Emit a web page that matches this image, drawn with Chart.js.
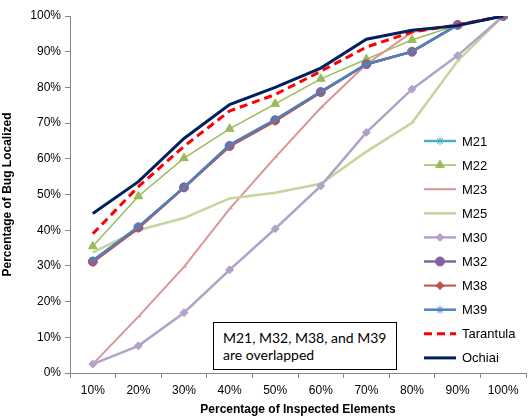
<!DOCTYPE html>
<html lang="en">
<head>
    <meta charset="UTF-8">
    <title>Bug Localization</title>
    <script src="https://cdn.jsdelivr.net/npm/chart.js"></script>
    <style>
        body {
            margin: 0;
            padding: 0;
            background: #fff;
        }
        .wrap {
            position: relative;
            width: 532px;
            height: 418px;
        }
        .note {
            position: absolute;
            left: 213px;
            top: 322px;
            width: 184px;
            height: 48px;
            border: 1px solid #000;
            background: #fff;
            font-family: Lato, "Open Sans", sans-serif;
            font-size: 14px;
            line-height: 17px;
            padding: 6px 0 0 9px;
            box-sizing: border-box;
            color: #000;
        }
    </style>
</head>
<body>
    <div class="wrap">
        <canvas id="bugChart" width="532" height="418"></canvas>
        <div class="note">M21, M32, M38, and M39<br>are overlapped</div>
    </div>

    <script>
        const categories = ['10%', '20%', '30%', '40%', '50%', '60%', '70%', '80%', '90%', '100%'];
        const m21 = [31.5, 40.8, 52, 63.8, 70.9, 78.7, 86.5, 90, 97.5, 100];
        const m22 = [35.5, 49.5, 60.2, 68.4, 75.4, 82.4, 87.9, 93.3, 97.5, 100];
        const m23 = [2.5, 15.8, 29.7, 46, 60.4, 74.3, 86.5, 95.5, 97.5, 100];
        const m25 = [33.8, 40, 43.4, 48.9, 50.5, 53, 62, 70.1, 87.4, 100];
        const m30 = [2.5, 7.6, 16.9, 28.9, 40.4, 52.4, 67.4, 79.5, 88.9, 100];
        const m32 = [31.2, 40.8, 52, 63.6, 70.8, 78.7, 86.5, 90, 97.5, 100];
        const m38 = [31, 40.5, 51.8, 63.4, 70.5, 78.5, 86.5, 90, 97.5, 100];
        const m39 = [31.5, 41, 52, 63.9, 71, 78.8, 86.5, 90, 97.5, 100];
        const tarantula = [39, 52.2, 63.5, 73.4, 78, 84.5, 91.3, 95.5, 97.5, 100];
        const ochiai = [44.7, 53.6, 65.7, 75.2, 80, 85.4, 93.5, 96, 97.3, 100];

        const series = [
            { label: 'M21', data: m21, color: '#4bacc6', width: 2.5, style: 'star', r: 4 },
            { label: 'M22', data: m22, color: '#9bbb59', width: 1.5, style: 'triangle', r: 5 },
            { label: 'M23', data: m23, color: '#d99694', width: 2, style: 'dash', r: 3 },
            { label: 'M25', data: m25, color: '#c3d69b', width: 2.5, style: 'dash', r: 3 },
            { label: 'M30', data: m30, color: '#b3a2c7', width: 2.5, style: 'rectRot', r: 4 },
            { label: 'M32', data: m32, color: '#8064a2', width: 2.5, style: 'circle', r: 4.5 },
            { label: 'M38', data: m38, color: '#c0504d', width: 2, style: 'rectRot', r: 4 },
            { label: 'M39', data: m39, color: '#4f81bd', width: 2.5, style: 'star', r: 4 },
            { label: 'Tarantula', data: tarantula, color: '#ff0000', width: 3, style: false, r: 0, dash: [8, 5] },
            { label: 'Ochiai', data: ochiai, color: '#002060', width: 3, style: false, r: 0 }
        ];

        // legend drawn inside the plot on the right, like the original
        const insideLegend = {
            id: 'insideLegend',
            afterDraw(chart) {
                const ctx = chart.ctx;
                ctx.save();
                series.forEach((s, i) => {
                    const y = 141 + i * 24.1;
                    ctx.strokeStyle = s.color;
                    ctx.fillStyle = s.color;
                    ctx.lineWidth = s.width;
                    ctx.setLineDash(s.dash || []);
                    ctx.beginPath();
                    ctx.moveTo(424, y);
                    ctx.lineTo(456, y);
                    ctx.stroke();
                    ctx.setLineDash([]);
                    if (s.style && s.style !== 'dash') {
                        ctx.lineWidth = 1;
                        Chart.helpers.drawPoint(ctx, { pointStyle: s.style, radius: s.r, rotation: 0, borderWidth: 1 }, 440, y);
                    }
                    ctx.fillStyle = '#000';
                    ctx.font = '13px Arial, "Liberation Sans", sans-serif';
                    ctx.textBaseline = 'middle';
                    ctx.fillText(s.label, 462, y + 1);
                });
                ctx.restore();
            }
        };

        const ctx = document.getElementById('bugChart').getContext('2d');
        new Chart(ctx, {
            type: 'line',
            data: {
                labels: categories,
                datasets: series.map((s, i) => ({
                    label: s.label,
                    data: s.data,
                    borderColor: s.color,
                    backgroundColor: s.color,
                    borderWidth: s.width,
                    borderDash: s.dash || [],
                    pointStyle: s.style,
                    pointRadius: s.r,
                    pointBorderWidth: 1,
                    pointBorderColor: s.color,
                    pointBackgroundColor: s.color,
                    tension: 0,
                    fill: false,
                    order: 20 - i
                }))
            },
            options: {
                responsive: false,
                animation: false,
                layout: { padding: { top: 16, right: 4, left: 0, bottom: 0 } },
                plugins: {
                    legend: { display: false },
                    tooltip: { enabled: false }
                },
                scales: {
                    x: {
                        offset: true,
                        grid: { offset: true, drawOnChartArea: false, color: '#868686', tickLength: 5 },
                        border: { color: '#868686' },
                        ticks: { color: '#000', font: { family: 'Arial', size: 12 }, padding: 5, maxRotation: 0 },
                        title: {
                            display: true,
                            text: 'Percentage of Inspected Elements',
                            color: '#000',
                            font: { family: 'Arial', size: 12, weight: 'bold' },
                            padding: { top: 3, bottom: 1 }
                        },
                        afterFit(scale) { scale.height = 45; }
                    },
                    y: {
                        min: 0,
                        max: 100,
                        ticks: {
                            stepSize: 10,
                            color: '#000',
                            font: { family: 'Arial', size: 12 },
                            padding: 4,
                            callback: v => v + '%'
                        },
                        grid: { drawOnChartArea: false, color: '#868686', tickLength: 5 },
                        border: { color: '#868686' },
                        title: {
                            display: true,
                            text: 'Percentage of Bug Localized',
                            color: '#000',
                            font: { family: 'Arial', size: 12, weight: 'bold' },
                            padding: { top: 0, bottom: 0 }
                        },
                        afterFit(scale) { scale.width = 70; }
                    }
                }
            },
            plugins: [insideLegend]
        });
    </script>
</body>
</html>
